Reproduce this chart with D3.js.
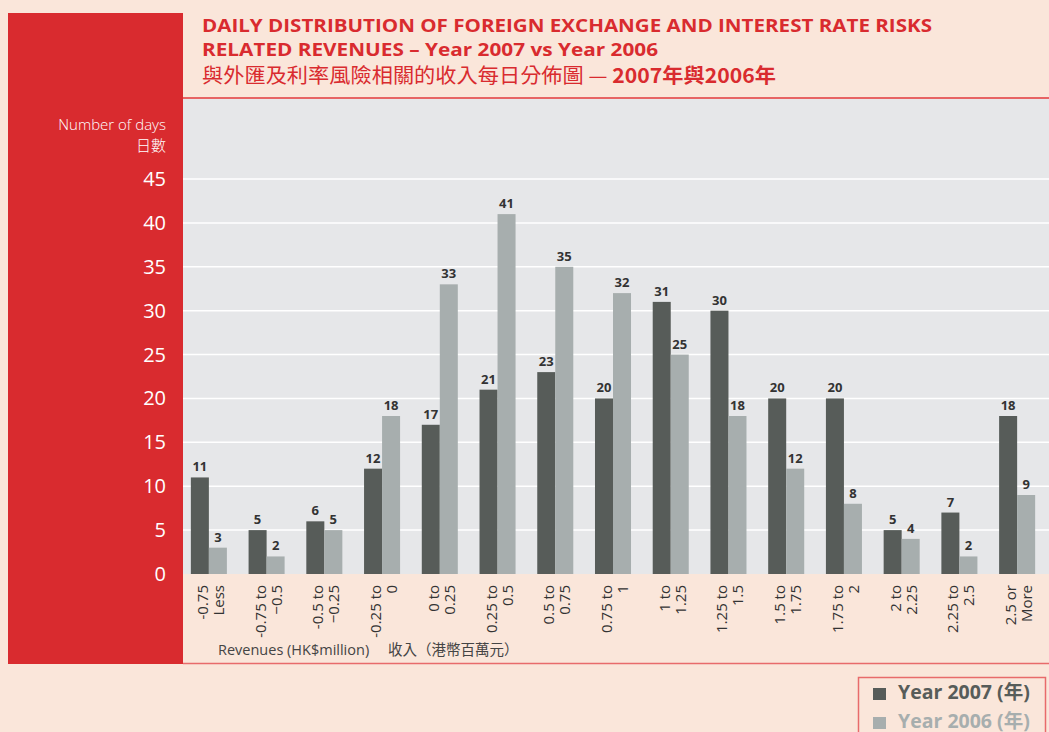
<!DOCTYPE html>
<html><head><meta charset="utf-8">
<script src="https://cdn.jsdelivr.net/npm/d3@7"></script>
<style>
html,body{margin:0;padding:0;background:#fae6da;}
svg{display:block;}
</style></head>
<body>
<script>
const categories = [["-0.75","Less"],["-0.75 to","\u22120.5"],["-0.5 to","\u22120.25"],["-0.25 to","0"],["0 to","0.25"],["0.25 to","0.5"],["0.5 to","0.75"],["0.75 to","1"],["1 to","1.25"],["1.25 to","1.5"],["1.5 to","1.75"],["1.75 to","2"],["2 to","2.25"],["2.25 to","2.5"],["2.5 or","More"]];
const values2007 = [11,5,6,12,17,21,23,20,31,30,20,20,5,7,18];
const values2006 = [3,2,5,18,33,41,35,32,25,18,12,8,4,2,9];
const yTicks = [0,5,10,15,20,25,30,35,40,45];
const seriesNames = ["Year 2007 (年)","Year 2006 (年)"];

const W=1049,H=732;
const RED="#d92b2f", DARK="#575c59", LIGHT="#a7aeae", PLOTBG="#e6e7e9";
const FONT="'Open Sans','Noto Sans','Noto Sans CJK TC',sans-serif";
const CJK="'Noto Sans CJK TC','Noto Sans',sans-serif";

const svg=d3.select("body").append("svg").attr("width",W).attr("height",H);
svg.append("rect").attr("width",W).attr("height",H).attr("fill","#fae6da");

// red side panel
svg.append("rect").attr("x",8).attr("y",13).attr("width",175).attr("height",651).attr("fill",RED);
// plot background
const plotTop=99, plotBottom=574, plotLeft=183, plotRight=W;
svg.append("rect").attr("x",plotLeft).attr("y",plotTop).attr("width",plotRight-plotLeft).attr("height",plotBottom-plotTop).attr("fill",PLOTBG);
// title underline
svg.append("line").attr("x1",plotLeft).attr("x2",W).attr("y1",98).attr("y2",98).attr("stroke","#e0393c").attr("stroke-width",1.5);
// bottom line
svg.append("line").attr("x1",plotLeft).attr("x2",W).attr("y1",663.5).attr("y2",663.5).attr("stroke","#e86b6b").attr("stroke-width",1.5);

// Title
const t=svg.append("g").attr("fill",RED);
t.append("text").attr("x",202).attr("y",32).attr("font-family",FONT).attr("font-weight","bold").attr("font-size",18.5)
 .attr("textLength",730).attr("lengthAdjust","spacingAndGlyphs").text("DAILY DISTRIBUTION OF FOREIGN EXCHANGE AND INTEREST RATE RISKS");
t.append("text").attr("x",202).attr("y",55.5).attr("font-family",FONT).attr("font-weight","bold").attr("font-size",18.5)
 .attr("textLength",456).attr("lengthAdjust","spacingAndGlyphs").text("RELATED REVENUES \u2013 Year 2007 vs Year 2006");
const t3=t.append("text").attr("x",202).attr("y",83).attr("font-family",CJK).attr("font-size",20.5)
 .attr("textLength",574).attr("lengthAdjust","spacingAndGlyphs");
t3.append("tspan").text("與外匯及利率風險相關的收入每日分佈圖 — ");
t3.append("tspan").attr("font-weight","bold").text("2007年與2006年");

// scales
const y=d3.scaleLinear().domain([0,45]).range([plotBottom,179]);
const x=d3.scaleBand().domain(d3.range(categories.length)).range([180,1046]).paddingInner(0.376).paddingOuter(0.188);
const x1=d3.scaleBand().domain([0,1]).range([0,x.bandwidth()]);

// grid
svg.append("g").selectAll("line").data(yTicks.filter(d=>d>0)).join("line")
 .attr("x1",plotLeft).attr("x2",plotRight).attr("y1",d=>y(d)).attr("y2",d=>y(d))
 .attr("stroke","#ffffff").attr("stroke-width",1.5);

// y tick labels
svg.append("g").selectAll("text").data(yTicks).join("text")
 .attr("x",166).attr("y",d=>y(d)+7).attr("text-anchor","end")
 .attr("font-family",FONT).attr("font-size",20).attr("fill","#ffffff").text(d=>d);
svg.append("text").attr("x",166).attr("y",130).attr("text-anchor","end").attr("font-family",FONT)
 .attr("font-size",15).attr("font-weight",300).attr("fill","#ffffff").text("Number of days");
svg.append("text").attr("x",166).attr("y",151).attr("text-anchor","end").attr("font-family",CJK)
 .attr("font-size",15).attr("font-weight",300).attr("fill","#ffffff").text("日數");

// bars
const series=[values2007,values2006];
const colors=[DARK,LIGHT];
series.forEach((vals,si)=>{
  const g=svg.append("g");
  g.selectAll("rect").data(vals).join("rect")
   .attr("x",(d,i)=>x(i)+x1(si)).attr("width",x1.bandwidth())
   .attr("y",d=>y(d)).attr("height",d=>plotBottom-y(d)).attr("fill",colors[si]);
  g.selectAll("text").data(vals).join("text")
   .attr("x",(d,i)=>x(i)+x1(si)+x1.bandwidth()/2).attr("y",d=>y(d)-6)
   .attr("text-anchor","middle").attr("font-family",FONT).attr("font-weight","bold")
   .attr("font-size",13).attr("fill","#333333").text(d=>d);
});

// x labels
const xl=svg.append("g").selectAll("g").data(categories).join("g")
 .attr("transform",(d,i)=>`translate(${x(i)+x.bandwidth()/2},585) rotate(-90)`);
xl.append("text").attr("x",0).attr("y",-1).attr("text-anchor","end").attr("font-family",FONT)
 .attr("font-size",15).attr("fill","#333333").text(d=>d[0]);
xl.append("text").attr("x",0).attr("y",15).attr("text-anchor","end").attr("font-family",FONT)
 .attr("font-size",15).attr("fill","#333333").text(d=>d[1]);

// axis caption
const cap=svg.append("text").attr("x",218).attr("y",655).attr("font-family",FONT).attr("font-size",14.5).attr("fill","#444444");
cap.append("tspan").text("Revenues (HK$million)");
cap.append("tspan").attr("x",388).attr("font-family",CJK).text("收入（港幣百萬元）");

// legend
svg.append("rect").attr("x",858.5).attr("y",677.5).attr("width",187).attr("height",60).attr("fill","none").attr("stroke","#e86b6b").attr("stroke-width",1.5);
seriesNames.forEach((n,i)=>{
  svg.append("rect").attr("x",873).attr("y",688+i*29).attr("width",13).attr("height",12).attr("fill",colors[i]);
  svg.append("text").attr("x",898).attr("y",699+i*28.5).attr("font-family",FONT).attr("font-weight","bold")
   .attr("font-size",19.5).attr("fill",i===0?DARK:LIGHT).text(n);
});
</script>
</body></html>
